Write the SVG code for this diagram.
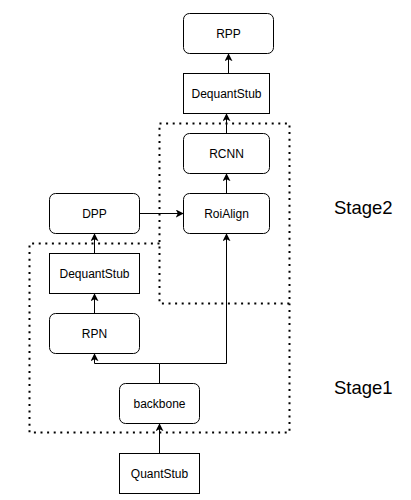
<svg xmlns="http://www.w3.org/2000/svg" width="411" height="500" viewBox="0 0 411 500">
<defs>
<style>
.box{fill:#fff;stroke:#000;stroke-width:1}
.t{font-family:"Liberation Sans",Arial,sans-serif;font-size:12px;fill:#000;text-anchor:middle;dominant-baseline:central}
.big{font-family:"Liberation Sans",Arial,sans-serif;font-size:18.5px;fill:#000}
.grp{fill:none;stroke:#000;stroke-width:2;stroke-dasharray:2 4.6}
.c{fill:none;stroke:#000;stroke-width:1;marker-end:url(#a)}
</style>
<marker id="a" viewBox="0 0 10 10" refX="9" refY="5" markerWidth="8" markerHeight="8" markerUnits="userSpaceOnUse" orient="auto">
<path d="M0,0 L10,5 L0,10 L2.5,5 Z" fill="#000"/>
</marker>
</defs>
<g id="stage2-group"><rect class="grp" x="159.5" y="123.5" width="130" height="180"/></g>
<g id="stage1-group"><path class="grp" d="M159.5,243.5 H29.5 V432.5 H289.5 V303.5"/></g>
<g id="connectors">
<path class="c" d="M159.5,453.5 V424"/>
<path class="c" d="M159.5,383.5 V363.5 H94.5 V354"/>
<path class="c" d="M159.5,363.5 H226.5 V234"/>
<path class="c" d="M94.5,313.5 V294"/>
<path class="c" d="M94.5,253.5 V234"/>
<path class="c" d="M139.5,213.5 H183"/>
<path class="c" d="M226.5,193.5 V174"/>
<path class="c" d="M226.5,133.5 V114"/>
<path class="c" d="M228.5,73.5 V54"/>
</g>
<g id="rpp"><rect class="box" x="183.5" y="13.5" width="90" height="40" rx="6"/><text class="t" x="228.5" y="33.5">RPP</text></g>
<g id="dequant-top"><rect class="box" x="183.5" y="73.5" width="86" height="40"/><text class="t" x="226.5" y="93.5">DequantStub</text></g>
<g id="rcnn"><rect class="box" x="183.5" y="133.5" width="86" height="40" rx="6"/><text class="t" x="226.5" y="153.5">RCNN</text></g>
<g id="roialign"><rect class="box" x="183.5" y="193.5" width="86" height="40" rx="6"/><text class="t" x="226.5" y="213.5">RoiAlign</text></g>
<g id="dpp"><rect class="box" x="49.5" y="193.5" width="90" height="40" rx="6"/><text class="t" x="94.5" y="213.5">DPP</text></g>
<g id="dequant-left"><rect class="box" x="49.5" y="253.5" width="90" height="40"/><text class="t" x="94.5" y="273.5">DequantStub</text></g>
<g id="rpn"><rect class="box" x="49.5" y="313.5" width="90" height="40" rx="6"/><text class="t" x="94.5" y="333.5">RPN</text></g>
<g id="backbone"><rect class="box" x="119.5" y="383.5" width="80" height="40" rx="6"/><text class="t" x="159.5" y="403.5">backbone</text></g>
<g id="quantstub"><rect class="box" x="119.5" y="453.5" width="80" height="40"/><text class="t" x="159.5" y="473.5">QuantStub</text></g>
<g id="label-stage2"><text class="big" x="334" y="214">Stage2</text></g>
<g id="label-stage1"><text class="big" x="334" y="394">Stage1</text></g>
</svg>
